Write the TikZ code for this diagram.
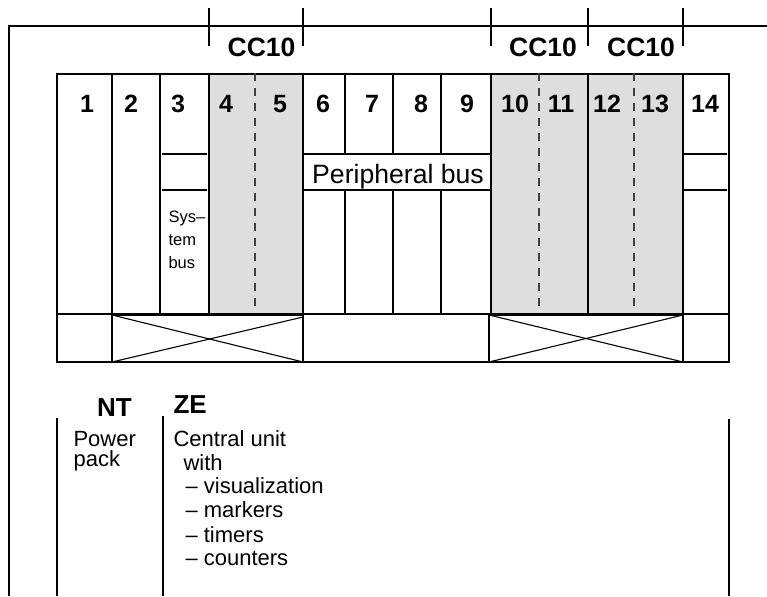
\documentclass[tikz,border=0pt]{standalone}
\usepackage{fontspec}
\setmainfont{Liberation Sans}
\begin{document}
\begin{tikzpicture}[x=1pt,y=-1pt, line width=1.1pt,
  num/.style={font=\fontsize{25}{28}\selectfont\bfseries, anchor=base, inner sep=0pt},
  head/.style={font=\fontsize{26.5}{28}\selectfont\bfseries, anchor=base, inner sep=0pt},
  lbl/.style={font=\fontsize{22}{24}\selectfont, anchor=base west, inner sep=0pt},
  smalltxt/.style={font=\fontsize{16.5}{18}\selectfont, anchor=base west, inner sep=0pt},
  dashline/.style={dash pattern=on 8pt off 7pt, line width=1.1pt, draw=black!75},
  shade/.style={fill=black!13}]
\useasboundingbox (0,0) rectangle (767,596);
% shaded slots
\fill[shade] (209,74) rectangle (303,315);
\fill[shade] (491,74) rectangle (683,315);
% outer frame
\draw (9,596) -- (9,26) -- (767,26);
% ticks
\foreach \x in {209,303,491,588,683} \draw (\x,8) -- (\x,46);
% main box
\draw (57,74) rectangle (729,362);
\draw (57,314) -- (729,314);
\draw (112,74) -- (112,362);
\draw (160,74) -- (160,314);
\draw (209,74) -- (209,315);
\draw (303,74) -- (303,362);
\draw (491,74) -- (491,315);
\draw (588,74) -- (588,315);
\draw (683,74) -- (683,362);
\foreach \x in {345,393,441} {\draw (\x,74) -- (\x,154); \draw (\x,190) -- (\x,314);}
% bus lines
\draw (162,154) -- (207,154); \draw (162,190) -- (207,190);
\draw (303,154) -- (491,154); \draw (303,190) -- (491,190);
\draw (683,154) -- (727,154); \draw (683,190) -- (727,190);
\draw (112,315) -- (209,315);
% dashed separators
\foreach \x in {255,539,634} \draw[dashline] (\x,73) -- (\x,312);
% crossed boxes
\draw (112,315) rectangle (303,362);
\draw (112,315) -- (303,362); \draw (112,362) -- (303,317);
\draw (489,315) rectangle (683,362);
\draw (489,315) -- (683,362); \draw (489,362) -- (683,315);
% CC10 labels
\node[head] (cca) at (261.5,57) {CC10};
\node[head] (ccb) at (543,57) {CC10};
\node[head] (ccc) at (641,57) {CC10};
% slot numbers
\foreach \n/\x in {1/87,2/131,3/178,4/226,5/280,6/323,7/372,8/421,9/467,10/515,11/561,12/607,13/655,14/705}
  \node[num] (n\n) at (\x,113) {\n};
% bus texts
\node[font=\fontsize{26.6}{30}\selectfont, anchor=base, inner sep=0pt] (pbus) at (398,183) {Peripheral bus};
\node[smalltxt] (sys1) at (168,222) {Sys–};
\node[smalltxt] (sys2) at (168,245) {tem};
\node[smalltxt] (sys3) at (168,268) {bus};
% lower part
\draw (57,418) -- (57,596);
\draw (163,416) -- (163,596);
\draw (729,419) -- (729,596);
\node[font=\fontsize{26}{30}\selectfont\bfseries, anchor=base, inner sep=0pt] (nt) at (114.5,416) {NT};
\node[font=\fontsize{26}{30}\selectfont\bfseries, anchor=base west, inner sep=0pt] (ze) at (173,413) {ZE};
\node[lbl] (pw1) at (73,446) {Power};
\node[lbl] (pw2) at (73,466) {pack};
\node[lbl] (cu1) at (173,446) {Central unit};
\node[lbl] (cu2) at (183,470) {with};
\node[lbl] (cu3) at (185,493) {– visualization};
\node[lbl] (cu4) at (185,517) {– markers};
\node[lbl] (cu5) at (185,542) {– timers};
\node[lbl] (cu6) at (185,565) {– counters};
\end{tikzpicture}
\end{document}
